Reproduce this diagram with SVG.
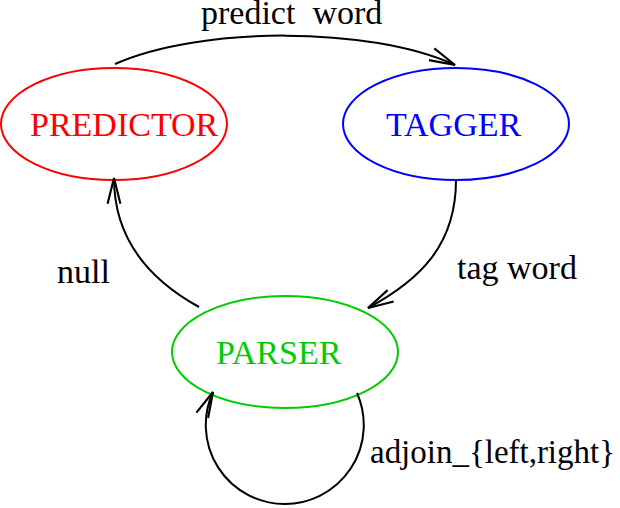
<svg xmlns="http://www.w3.org/2000/svg" width="620" height="508" viewBox="0 0 620 508">
<style>
.t{font-family:'Liberation Serif','Times New Roman',Times,serif;font-size:34px}
.node{fill:none;stroke-width:2}
.edge{fill:none;stroke:#000;stroke-width:2;marker-end:url(#arr)}
</style>
<defs>
<marker id="arr" markerUnits="userSpaceOnUse" markerWidth="30" markerHeight="20" refX="0" refY="0" viewBox="-26 -8 28 16" orient="auto" overflow="visible">
<path d="M-24,-6 L0,0 L-24,6" fill="none" stroke="#000" stroke-width="2"/>
</marker>
</defs>
<rect width="620" height="508" fill="#fff"/>
<g id="predictor">
<ellipse class="node" cx="114" cy="124" rx="113" ry="56" stroke="#ff0000"/>
<text class="t" x="30" y="136" fill="#ff0000" font-family="Liberation Serif, serif">PREDICTOR</text>
</g>
<g id="tagger">
<ellipse class="node" cx="456" cy="124" rx="113" ry="56" stroke="#0000ff"/>
<text class="t" x="386" y="136" fill="#0000ff" font-family="Liberation Serif, serif">TAGGER</text>
</g>
<g id="parser">
<ellipse class="node" cx="285" cy="352" rx="113" ry="56" stroke="#00cc00"/>
<text class="t" x="216" y="364" fill="#00cc00" font-family="Liberation Serif, serif">PARSER</text>
</g>
<g id="connectors">
<path class="edge" d="M115,64 C200,26 370,26 455,65"/>
<path class="edge" d="M456,180 C456,245 420,280 368,308"/>
<path class="edge" d="M199,307 C150,280 114,240 114,178"/>
<path class="edge" d="M357,393 A79,79 0 1 1 213,392"/>
<text class="t" x="201" y="24" xml:space="preserve" font-family="Liberation Serif, serif">predict  word</text>
<text class="t" x="457" y="279" font-family="Liberation Serif, serif">tag word</text>
<text class="t" x="57" y="283" font-family="Liberation Serif, serif">null</text>
<text class="t" x="370" y="463" font-family="Liberation Serif, serif" textLength="245" lengthAdjust="spacingAndGlyphs">adjoin_{left,right}</text>
</g>
</svg>
